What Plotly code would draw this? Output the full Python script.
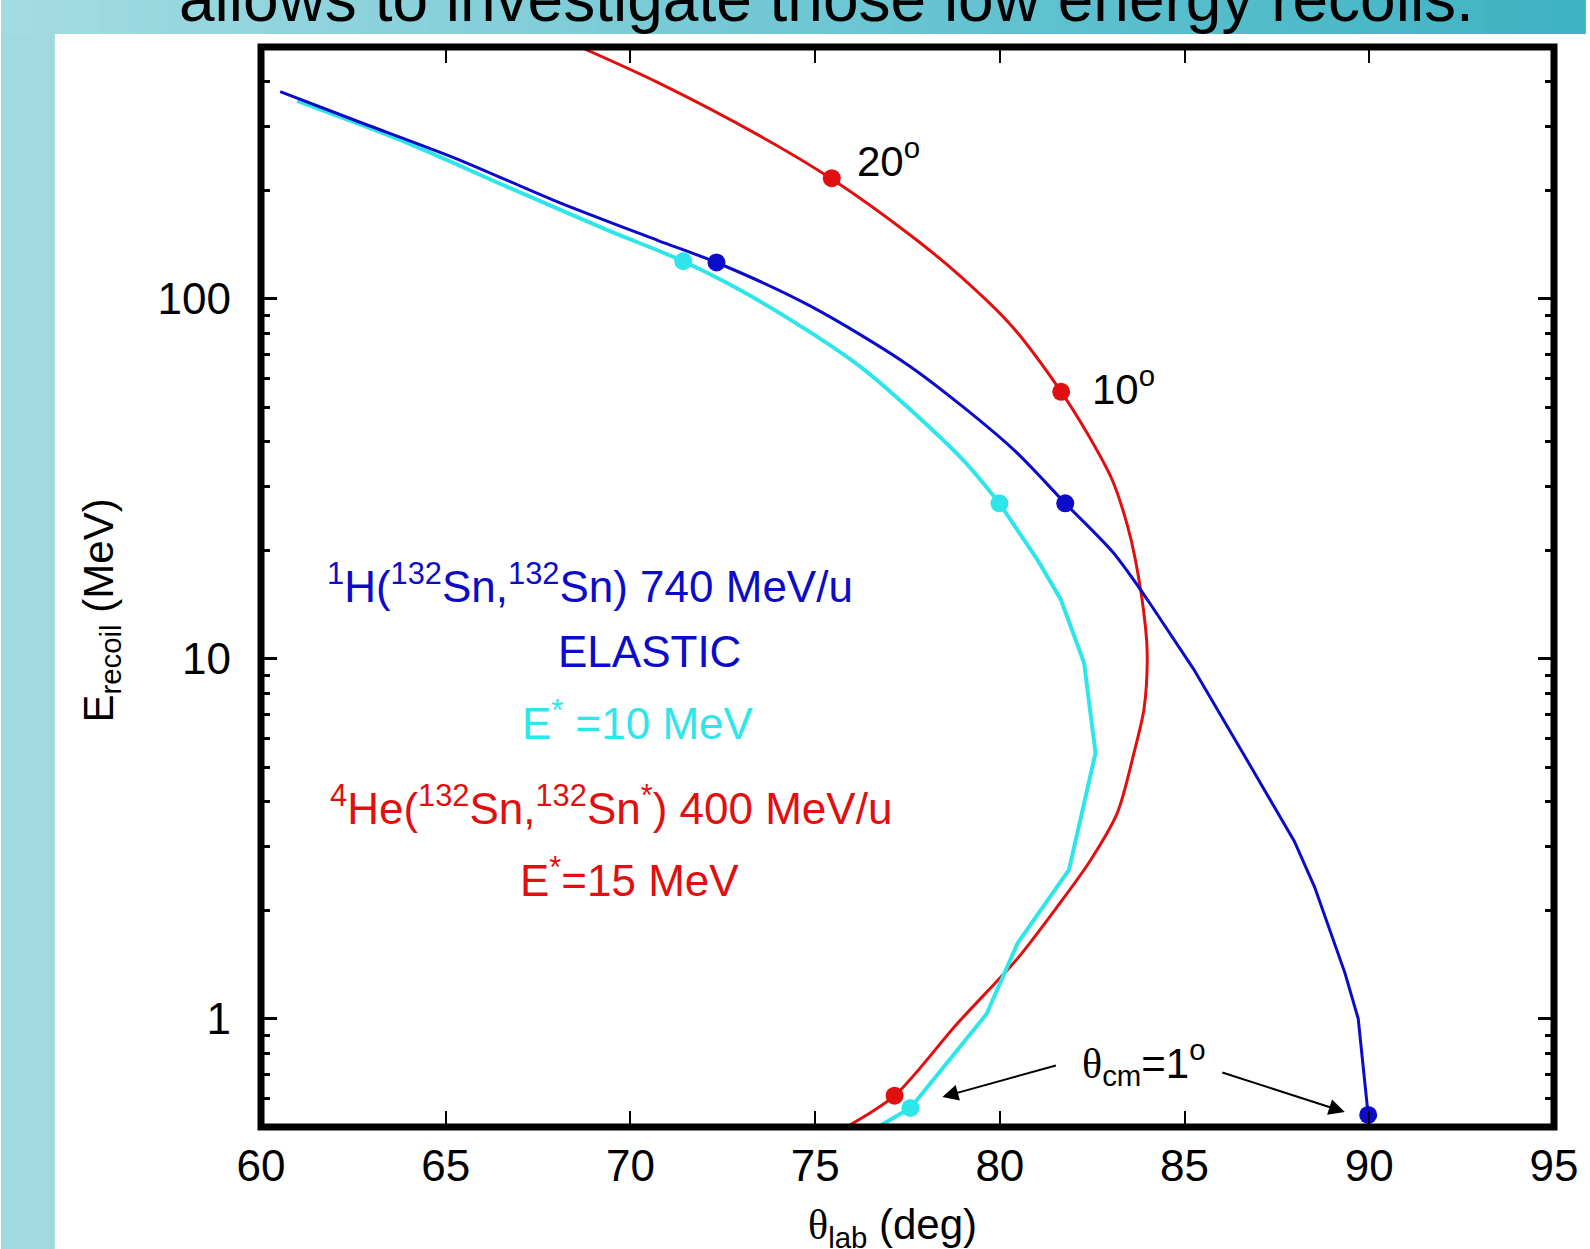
import plotly.graph_objects as go

# ---------------- data ----------------
elastic_theta = [60.52, 62.54, 65.28, 68.01, 70.75, 72.33, 74.85, 77.58, 80.32, 81.77, 83.05,
                 84.01, 85.24, 86.61, 87.97, 88.52, 88.93, 89.34, 89.70, 89.83, 89.97]
elastic_E = [376, 313, 245, 186, 145, 126, 95.6, 64.7, 38.5, 27.0, 19.8,
             14.5, 9.37, 5.40, 3.11, 2.32, 1.76, 1.34, 1.00, 0.746, 0.540]

exc10_theta = [60.98, 63.91, 66.64, 69.38, 71.43, 73.48, 76.22, 78.95, 79.99, 81.02, 81.65,
               82.28, 82.59, 81.87, 80.48, 79.64, 77.58, 76.70]
exc10_E = [354, 272, 205, 155, 127, 98.7, 64.7, 36.1, 27.0, 18.8, 14.6,
           9.73, 5.47, 2.59, 1.62, 1.03, 0.565, 0.50]

he_theta = [68.64, 70.75, 73.48, 75.45, 77.58, 78.95, 80.32, 81.66, 82.37, 83.04, 83.45, 83.67,
            83.94, 83.99, 83.90, 83.63, 83.18, 82.41, 81.56, 80.48, 78.82, 77.15, 75.70]
he_E = [500, 398, 284, 215, 150, 115, 84.0, 55.1, 42.2, 31.4, 23.5, 18.8,
        12.3, 9.94, 7.22, 5.47, 3.73, 2.71, 2.05, 1.47, 0.962, 0.611, 0.49]

elastic_mark_theta = [72.33, 81.77, 89.97]
elastic_mark_E = [126, 27.0, 0.540]
exc10_mark_theta = [71.43, 79.99, 77.58]
exc10_mark_E = [127, 27.0, 0.565]
he_mark_theta = [75.45, 81.66, 77.15]
he_mark_E = [216, 55.1, 0.611]

x_ticks = [60, 65, 70, 75, 80, 85, 90, 95]
y_ticks = [1, 10, 100]
y_ticktext = ["1", "10", "100"]
y_minor = [0.6, 0.7, 0.8, 0.9, 2, 3, 4, 5, 6, 7, 8, 9,
           20, 30, 40, 50, 60, 70, 80, 90, 200, 300, 400]

# ---------------- layout geometry ----------------
W, H = 1590, 1249
ML, MR, MT, MB = 261, 31, 47, 122
PL, PR, PT, PB = ML, W - MR, MT, H - MB


def px(xp):
    return (xp - PL) / (PR - PL)


def py(yp):
    return (PB - yp) / (PB - PT)


FONT = "Liberation Sans, Arial, Helvetica, sans-serif"
BLUE = "#0b0bc8"
CYAN = "#2ee6ea"
RED = "#e01010"

fig = go.Figure()

fig.add_trace(go.Scatter(x=he_theta, y=he_E, mode="lines",
                         line=dict(color=RED, width=3, shape="spline", smoothing=0.8), hoverinfo="skip"))
fig.add_trace(go.Scatter(x=exc10_theta[:9], y=exc10_E[:9], mode="lines",
                         line=dict(color=CYAN, width=4, shape="spline", smoothing=0.8), hoverinfo="skip"))
fig.add_trace(go.Scatter(x=exc10_theta[8:], y=exc10_E[8:], mode="lines",
                         line=dict(color=CYAN, width=4), hoverinfo="skip"))
fig.add_trace(go.Scatter(x=elastic_theta[:12], y=elastic_E[:12], mode="lines",
                         line=dict(color=BLUE, width=3, shape="spline", smoothing=0.8), hoverinfo="skip"))
fig.add_trace(go.Scatter(x=elastic_theta[11:], y=elastic_E[11:], mode="lines",
                         line=dict(color=BLUE, width=3), hoverinfo="skip"))
fig.add_trace(go.Scatter(x=he_mark_theta, y=he_mark_E, mode="markers",
                         marker=dict(color=RED, size=18, line=dict(width=0))))
fig.add_trace(go.Scatter(x=exc10_mark_theta, y=exc10_mark_E, mode="markers",
                         marker=dict(color=CYAN, size=18, line=dict(width=0))))
fig.add_trace(go.Scatter(x=elastic_mark_theta, y=elastic_mark_E, mode="markers",
                         marker=dict(color=BLUE, size=18, line=dict(width=0))))

shapes = []
# left strip of the slide
shapes.append(dict(type="rect", xref="paper", yref="paper", layer="below",
                   x0=px(0), x1=px(54), y0=py(H), y1=py(0),
                   fillcolor="#a0dae0", line=dict(width=0)))
# top gradient band of the slide
n = 48
c0 = (163, 219, 227)
c1 = (62, 179, 196)
for i in range(n):
    t = i / (n - 1)
    col = "rgb(%d,%d,%d)" % tuple(round(c0[k] + (c1[k] - c0[k]) * t) for k in range(3))
    shapes.append(dict(type="rect", xref="paper", yref="paper", layer="below",
                       x0=px(W * i / n), x1=px(W * (i + 1) / n + 1), y0=py(34), y1=py(0),
                       fillcolor=col, line=dict(width=0)))
# frame
shapes.append(dict(type="rect", xref="paper", yref="paper", layer="above",
                   x0=0, x1=1, y0=0, y1=1, line=dict(color="black", width=7)))

ann = []
ann.append(dict(text="allows to investigate those low energy recoils.", xref="paper", yref="paper",
                x=px(829), y=py(37), xanchor="center", yanchor="bottom", showarrow=False,
                font=dict(family=FONT, size=64, color="black")))
# axis titles
ann.append(dict(text="E<sub>recoil</sub> (MeV)", xref="paper", yref="paper",
                x=px(101), y=py(611), xanchor="center", yanchor="middle", textangle=-90,
                showarrow=False, font=dict(family=FONT, size=42, color="black")))
ann.append(dict(text="<span style='font-family:Liberation Serif'>θ</span><sub>lab</sub> (deg)",
                xref="paper", yref="paper",
                x=px(895), y=py(1227), xanchor="center", yanchor="middle",
                showarrow=False, font=dict(family=FONT, size=42, color="black")))
# angle labels
ann.append(dict(text="20<sup>o</sup>", xref="paper", yref="paper", x=px(857), y=py(158),
                xanchor="left", yanchor="middle", showarrow=False,
                font=dict(family=FONT, size=42, color="black")))
ann.append(dict(text="10<sup>o</sup>", xref="paper", yref="paper", x=px(1093), y=py(386),
                xanchor="left", yanchor="middle", showarrow=False,
                font=dict(family=FONT, size=42, color="black")))
ann.append(dict(text="<span style='font-family:Liberation Serif'>θ</span><sub>cm</sub>=1<sup>o</sup>",
                xref="paper", yref="paper", x=px(1083), y=py(1062),
                xanchor="left", yanchor="middle", showarrow=False,
                font=dict(family=FONT, size=42, color="black")))
# reaction labels
ann.append(dict(text="<sup>1</sup>H(<sup>132</sup>Sn,<sup>132</sup>Sn) 740 MeV/u", xref="paper", yref="paper",
                x=px(591), y=py(583), xanchor="center", yanchor="middle", showarrow=False,
                font=dict(family=FONT, size=44, color=BLUE)))
ann.append(dict(text="ELASTIC", xref="paper", yref="paper",
                x=px(651), y=py(652), xanchor="center", yanchor="middle", showarrow=False,
                font=dict(family=FONT, size=44, color=BLUE)))
ann.append(dict(text="E<sup>*</sup> =10 MeV", xref="paper", yref="paper",
                x=px(639), y=py(720), xanchor="center", yanchor="middle", showarrow=False,
                font=dict(family=FONT, size=44, color=CYAN)))
ann.append(dict(text="<sup>4</sup>He(<sup>132</sup>Sn,<sup>132</sup>Sn<sup>*</sup>) 400 MeV/u", xref="paper", yref="paper",
                x=px(612), y=py(806), xanchor="center", yanchor="middle", showarrow=False,
                font=dict(family=FONT, size=44, color=RED)))
ann.append(dict(text="E<sup>*</sup>=15 MeV", xref="paper", yref="paper",
                x=px(631), y=py(878), xanchor="center", yanchor="middle", showarrow=False,
                font=dict(family=FONT, size=44, color=RED)))
# arrows
ann.append(dict(text="", xref="paper", yref="paper", x=px(945), y=py(1097), ax=115, ay=-32,
                showarrow=True, arrowhead=2, arrowsize=1.6, arrowwidth=2, arrowcolor="black", standoff=0))
ann.append(dict(text="", xref="paper", yref="paper", x=px(1349), y=py(1112), ax=-124, ay=-40,
                showarrow=True, arrowhead=2, arrowsize=1.6, arrowwidth=2, arrowcolor="black", standoff=0))

fig.update_layout(
    width=W, height=H,
    margin=dict(l=ML, r=MR, t=MT, b=MB, pad=0),
    paper_bgcolor="white", plot_bgcolor="white",
    showlegend=False,
    shapes=shapes, annotations=ann,
    xaxis=dict(range=[60, 95], tickmode="array", tickvals=x_ticks,
               ticks="inside", ticklen=16, tickwidth=2, tickcolor="black",
               showline=False, mirror="allticks", showgrid=False, zeroline=False,
               tickfont=dict(family=FONT, size=44, color="black"), ticklabelstandoff=9),
    yaxis=dict(type="log", range=[-0.30103, 2.69897], tickmode="array",
               tickvals=y_ticks, ticktext=y_ticktext,
               ticks="inside", ticklen=16, tickwidth=3, tickcolor="black",
               showline=False, mirror="allticks", showgrid=False, zeroline=False,
               tickfont=dict(family=FONT, size=44, color="black"), ticklabelstandoff=29,
               minor=dict(tickmode="array", tickvals=y_minor, ticks="inside",
                          ticklen=9, tickwidth=3, tickcolor="black", showgrid=False)),
)

fig.write_html("out.html", config={"displayModeBar": False},
               post_script="document.body.style.margin='0';document.body.style.overflow='hidden';")
